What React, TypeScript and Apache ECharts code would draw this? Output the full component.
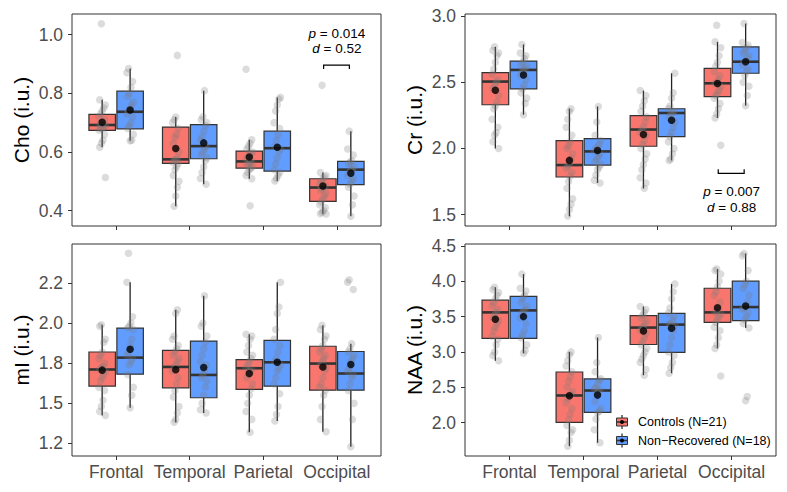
import React, { useEffect, useRef } from 'react';
import * as echarts from 'echarts';

const regions = ['Frontal', 'Temporal', 'Parietal', 'Occipital'];
const groupNames = ['Controls (N=21)', 'Non\u2212Recovered (N=18)'];
const groupColors = ['#F8766D', '#619CFF'];

// ---------- Cho ----------
const choTicks = [0.4, 0.6, 0.8, 1.0];
const choTickLabels = ['0.4', '0.6', '0.8', '1.0'];
// [lower whisker, Q1, median, Q3, upper whisker]
const choCtrlBox = [
  [0.616, 0.674, 0.692, 0.728, 0.778],
  [0.415, 0.561, 0.575, 0.685, 0.719],
  [0.509, 0.545, 0.568, 0.603, 0.642],
  [0.389, 0.432, 0.479, 0.509, 0.53],
];
const choCtrlMean = [0.701, 0.612, 0.583, 0.484];
const choNrBox = [
  [0.638, 0.679, 0.737, 0.807, 0.884],
  [0.49, 0.577, 0.62, 0.693, 0.809],
  [0.501, 0.535, 0.613, 0.671, 0.786],
  [0.381, 0.489, 0.54, 0.568, 0.671],
];
const choNrMean = [0.743, 0.631, 0.616, 0.528];
const choCtrlPts = [
  [1.037, 0.778, 0.76, 0.75, 0.74, 0.73, 0.72, 0.71, 0.7, 0.7, 0.695, 0.69, 0.685, 0.68, 0.68, 0.675, 0.66, 0.64, 0.63, 0.616, 0.513],
  [0.929, 0.719, 0.71, 0.7, 0.68, 0.66, 0.65, 0.63, 0.6, 0.58, 0.575, 0.57, 0.565, 0.56, 0.55, 0.54, 0.52, 0.5, 0.48, 0.45, 0.415],
  [0.882, 0.642, 0.63, 0.62, 0.61, 0.6, 0.595, 0.59, 0.58, 0.575, 0.57, 0.565, 0.56, 0.555, 0.55, 0.545, 0.54, 0.53, 0.52, 0.509, 0.417],
  [0.827, 0.53, 0.52, 0.515, 0.51, 0.5, 0.49, 0.485, 0.48, 0.475, 0.47, 0.46, 0.45, 0.44, 0.43, 0.42, 0.41, 0.4, 0.395, 0.39, 0.389],
];
const choNrPts = [
  [0.884, 0.87, 0.84, 0.82, 0.8, 0.79, 0.77, 0.76, 0.75, 0.74, 0.73, 0.72, 0.7, 0.69, 0.68, 0.66, 0.64, 0.638],
  [0.809, 0.72, 0.71, 0.7, 0.69, 0.67, 0.65, 0.64, 0.62, 0.61, 0.6, 0.59, 0.58, 0.57, 0.55, 0.53, 0.51, 0.49],
  [0.786, 0.78, 0.76, 0.74, 0.7, 0.68, 0.66, 0.64, 0.62, 0.61, 0.6, 0.58, 0.56, 0.54, 0.53, 0.52, 0.51, 0.501],
  [0.671, 0.61, 0.59, 0.57, 0.565, 0.56, 0.55, 0.54, 0.54, 0.53, 0.52, 0.51, 0.5, 0.49, 0.48, 0.45, 0.42, 0.381],
];

// ---------- Cr ----------
const crTicks = [1.5, 2.0, 2.5, 3.0];
const crTickLabels = ['1.5', '2.0', '2.5', '3.0'];
const crCtrlBox = [
  [2.0, 2.33, 2.505, 2.572, 2.767],
  [1.488, 1.785, 1.875, 2.06, 2.3],
  [1.698, 2.017, 2.143, 2.248, 2.437],
  [2.23, 2.392, 2.492, 2.605, 2.805],
];
const crCtrlMean = [2.44, 1.91, 2.105, 2.49];
const crNrBox = [
  [2.255, 2.45, 2.593, 2.66, 2.785],
  [1.74, 1.875, 1.978, 2.075, 2.317],
  [1.91, 2.09, 2.268, 2.3, 2.568],
  [2.323, 2.568, 2.655, 2.767, 2.943],
];
const crNrMean = [2.555, 1.985, 2.213, 2.655];
const crCtrlPts = [
  [2.767, 2.74, 2.72, 2.7, 2.65, 2.6, 2.56, 2.52, 2.5, 2.48, 2.45, 2.4, 2.35, 2.32, 2.3, 2.22, 2.16, 2.12, 2.1, 2.05, 2.0],
  [2.3, 2.28, 2.22, 2.16, 2.1, 2.05, 2.02, 2.0, 1.96, 1.92, 1.88, 1.87, 1.85, 1.82, 1.79, 1.75, 1.7, 1.62, 1.58, 1.54, 1.49],
  [2.437, 2.4, 2.36, 2.32, 2.28, 2.24, 2.2, 2.16, 2.14, 2.12, 2.1, 2.06, 2.03, 2.0, 1.96, 1.92, 1.88, 1.84, 1.78, 1.74, 1.7],
  [2.93, 2.805, 2.76, 2.7, 2.65, 2.62, 2.58, 2.55, 2.52, 2.5, 2.49, 2.47, 2.44, 2.42, 2.4, 2.38, 2.34, 2.3, 2.26, 2.23, 2.025],
];
const crNrPts = [
  [2.785, 2.72, 2.7, 2.68, 2.65, 2.63, 2.62, 2.6, 2.59, 2.58, 2.55, 2.52, 2.48, 2.45, 2.42, 2.38, 2.34, 2.255],
  [2.317, 2.2, 2.1, 2.06, 2.03, 2.01, 2.0, 1.98, 1.96, 1.94, 1.92, 1.9, 1.88, 1.86, 1.84, 1.8, 1.76, 1.74],
  [2.568, 2.42, 2.38, 2.32, 2.3, 2.28, 2.27, 2.26, 2.24, 2.2, 2.16, 2.12, 2.09, 2.05, 2.0, 1.96, 1.92, 1.91],
  [2.943, 2.8, 2.78, 2.76, 2.74, 2.72, 2.7, 2.68, 2.66, 2.65, 2.63, 2.6, 2.58, 2.55, 2.5, 2.47, 2.4, 2.323],
];

// ---------- mI ----------
const miTicks = [1.25, 1.5, 1.75, 2.0, 2.25];
const miTickLabels = ['1.2', '1.5', '1.8', '2.0', '2.2'];
const miCtrlBox = [
  [1.425, 1.607, 1.711, 1.82, 1.99],
  [1.382, 1.597, 1.727, 1.83, 2.083],
  [1.32, 1.587, 1.719, 1.773, 1.93],
  [1.323, 1.582, 1.748, 1.856, 1.986],
];
const miCtrlMean = [1.707, 1.71, 1.686, 1.727];
const miNrBox = [
  [1.472, 1.682, 1.785, 1.969, 2.255],
  [1.44, 1.535, 1.677, 1.888, 2.17],
  [1.39, 1.607, 1.756, 1.893, 2.255],
  [1.23, 1.582, 1.686, 1.823, 1.872],
];
const miNrMean = [1.837, 1.723, 1.756, 1.742];
const miCtrlPts = [
  [1.99, 1.98, 1.9, 1.88, 1.82, 1.8, 1.78, 1.75, 1.73, 1.72, 1.71, 1.7, 1.68, 1.66, 1.64, 1.6, 1.58, 1.52, 1.48, 1.45, 1.425],
  [2.083, 2.06, 1.92, 1.9, 1.86, 1.84, 1.82, 1.8, 1.78, 1.76, 1.74, 1.72, 1.7, 1.66, 1.62, 1.58, 1.54, 1.48, 1.44, 1.4, 1.382],
  [1.93, 1.92, 1.9, 1.86, 1.82, 1.8, 1.78, 1.76, 1.74, 1.72, 1.71, 1.7, 1.68, 1.66, 1.62, 1.59, 1.55, 1.5, 1.45, 1.4, 1.32],
  [1.986, 1.96, 1.92, 1.9, 1.86, 1.84, 1.82, 1.8, 1.78, 1.76, 1.74, 1.72, 1.7, 1.66, 1.62, 1.6, 1.58, 1.55, 1.48, 1.4, 1.323],
];
const miNrPts = [
  [2.435, 2.255, 2.04, 2.0, 1.98, 1.97, 1.96, 1.9, 1.86, 1.82, 1.8, 1.78, 1.76, 1.74, 1.68, 1.6, 1.55, 1.472],
  [2.17, 2.0, 1.98, 1.92, 1.88, 1.84, 1.8, 1.76, 1.74, 1.7, 1.68, 1.66, 1.64, 1.6, 1.55, 1.5, 1.46, 1.44],
  [2.255, 2.1, 2.06, 1.96, 1.9, 1.86, 1.82, 1.78, 1.76, 1.74, 1.72, 1.7, 1.66, 1.62, 1.56, 1.48, 1.43, 1.39],
  [2.27, 2.255, 2.21, 1.872, 1.84, 1.82, 1.8, 1.78, 1.76, 1.72, 1.7, 1.68, 1.66, 1.62, 1.58, 1.5, 1.4, 1.23],
];

// ---------- NAA ----------
const naaTicks = [2.0, 2.5, 3.0, 3.5, 4.0, 4.5];
const naaTickLabels = ['2.0', '2.5', '3.0', '3.5', '4.0', '4.5'];
const naaCtrlBox = [
  [2.875, 3.19, 3.559, 3.732, 3.915],
  [1.667, 2.004, 2.384, 2.716, 3.0],
  [2.67, 3.105, 3.344, 3.513, 3.643],
  [3.049, 3.418, 3.559, 3.9, 4.172],
];
const naaCtrlMean = [3.461, 2.38, 3.297, 3.625];
const naaNrBox = [
  [2.98, 3.19, 3.587, 3.784, 4.1],
  [1.715, 2.145, 2.454, 2.618, 3.204],
  [2.698, 2.993, 3.386, 3.545, 3.962],
  [3.339, 3.442, 3.634, 4.0, 4.392],
];
const naaNrMean = [3.499, 2.389, 3.334, 3.648];
const naaCtrlPts = [
  [3.915, 3.88, 3.84, 3.8, 3.75, 3.7, 3.65, 3.6, 3.56, 3.52, 3.48, 3.44, 3.4, 3.35, 3.3, 3.22, 3.18, 3.1, 3.0, 2.95, 2.875],
  [3.0, 2.96, 2.88, 2.8, 2.72, 2.65, 2.58, 2.5, 2.44, 2.4, 2.38, 2.34, 2.28, 2.2, 2.12, 2.04, 1.96, 1.9, 1.86, 1.75, 1.667],
  [3.643, 3.6, 3.56, 3.52, 3.48, 3.44, 3.4, 3.36, 3.34, 3.3, 3.26, 3.2, 3.15, 3.1, 3.05, 3.0, 2.95, 2.9, 2.85, 2.75, 2.67],
  [4.172, 4.15, 4.1, 4.0, 3.92, 3.85, 3.8, 3.7, 3.62, 3.58, 3.56, 3.54, 3.5, 3.46, 3.42, 3.35, 3.3, 3.2, 3.1, 3.049, 2.66],
];
const naaNrPts = [
  [4.1, 3.9, 3.86, 3.8, 3.75, 3.7, 3.65, 3.6, 3.58, 3.55, 3.48, 3.4, 3.3, 3.24, 3.2, 3.1, 3.02, 2.98],
  [3.204, 2.85, 2.72, 2.62, 2.6, 2.55, 2.5, 2.48, 2.46, 2.44, 2.4, 2.3, 2.2, 2.16, 2.14, 2.05, 1.9, 1.715],
  [3.962, 3.85, 3.75, 3.62, 3.55, 3.5, 3.45, 3.4, 3.39, 3.38, 3.3, 3.2, 3.1, 3.0, 2.95, 2.85, 2.78, 2.698],
  [4.392, 4.36, 4.15, 4.0, 3.95, 3.9, 3.8, 3.7, 3.65, 3.62, 3.6, 3.55, 3.5, 3.45, 3.4, 3.339, 2.37, 2.31],
];

// significance annotations
const choAnnot = { region: 3, p: '0.014', d: '0.52', bracket: 0.896, pY: 1.005, dY: 0.953, dir: -1 };
const crAnnot = { region: 3, p: '0.007', d: '0.88', bracket: 1.8125, pY: 1.672, dY: 1.555, dir: 1 };

const FONT = "'Liberation Sans', Arial, Helvetica, sans-serif";
const DODGE = 0.19;
const HALF = 0.18;

const panels = [
  { title: 'Cho (i.u.)', min: 0.348, max: 1.07, ticks: choTicks, labels: choTickLabels, cBox: choCtrlBox, cMean: choCtrlMean, nBox: choNrBox, nMean: choNrMean, cPts: choCtrlPts, nPts: choNrPts, annot: choAnnot, grid: { left: 72, top: 14, width: 309, height: 212 }, bottom: false },
  { title: 'Cr (i.u.)', min: 1.415, max: 3.015, ticks: crTicks, labels: crTickLabels, cBox: crCtrlBox, cMean: crCtrlMean, nBox: crNrBox, nMean: crNrMean, cPts: crCtrlPts, nPts: crNrPts, annot: crAnnot, grid: { left: 465, top: 14, width: 311, height: 212 }, bottom: false },
  { title: 'mI (i.u.)', min: 1.172, max: 2.493, ticks: miTicks, labels: miTickLabels, cBox: miCtrlBox, cMean: miCtrlMean, nBox: miNrBox, nMean: miNrMean, cPts: miCtrlPts, nPts: miNrPts, annot: null, grid: { left: 72, top: 244, width: 309, height: 212 }, bottom: true },
  { title: 'NAA (i.u.)', min: 1.528, max: 4.526, ticks: naaTicks, labels: naaTickLabels, cBox: naaCtrlBox, cMean: naaCtrlMean, nBox: naaNrBox, nMean: naaNrMean, cPts: naaCtrlPts, nPts: naaNrPts, annot: null, grid: { left: 465, top: 244, width: 311, height: 212 }, bottom: true },
];

const jitter = (i: number) => (((i * 7 + 3) % 9) - 4) * 0.011;

const renderBox = (params: any, api: any) => {
  const x = api.value(0);
  const lo = api.value(1), q1 = api.value(2), med = api.value(3), q3 = api.value(4), hi = api.value(5);
  const g = api.value(6);
  const top = api.coord([x, hi]);
  const bot = api.coord([x, lo]);
  const tl = api.coord([x - HALF, q3]);
  const br = api.coord([x + HALF, q1]);
  const ml = api.coord([x - HALF, med]);
  const mr = api.coord([x + HALF, med]);
  return {
    type: 'group',
    children: [
      { type: 'line', shape: { x1: top[0], y1: top[1], x2: bot[0], y2: bot[1] }, style: { stroke: '#222', lineWidth: 1.3 } },
      { type: 'rect', shape: { x: tl[0], y: tl[1], width: br[0] - tl[0], height: br[1] - tl[1] }, style: { fill: groupColors[g], stroke: '#333', lineWidth: 1.2 } },
      { type: 'line', shape: { x1: ml[0], y1: ml[1], x2: mr[0], y2: mr[1] }, style: { stroke: '#333', lineWidth: 2.6 } },
    ],
  };
};

const makeAnnotRender = (a: any) => (params: any, api: any) => {
  const c = a.region + 1;
  const x1 = c - DODGE + 0.01, x2 = c + DODGE - 0.02;
  const p1 = api.coord([x1, a.bracket]);
  const p2 = api.coord([x2, a.bracket]);
  const pc = api.coord([c, a.pY]);
  const dc = api.coord([c, a.dY]);
  const tick = 4;
  const rich = { i: { fontStyle: 'italic', fontSize: 13.5, fontFamily: FONT, fill: '#000' } };
  return {
    type: 'group',
    children: [
      { type: 'polyline', shape: { points: [[p1[0], p1[1] - a.dir * tick], [p1[0], p1[1]], [p2[0], p2[1]], [p2[0], p2[1] - a.dir * tick]] }, style: { stroke: '#000', lineWidth: 1.2, fill: 'none' } },
      { type: 'text', x: pc[0], y: pc[1], style: { text: '{i|p} = ' + a.p, rich, fontSize: 13.5, fontFamily: FONT, fill: '#000', align: 'center', verticalAlign: 'middle' } },
      { type: 'text', x: dc[0], y: dc[1], style: { text: '{i|d} = ' + a.d, rich, fontSize: 13.5, fontFamily: FONT, fill: '#000', align: 'center', verticalAlign: 'middle' } },
    ],
  };
};

function buildOption() {
  const grid: any[] = [];
  const xAxis: any[] = [];
  const yAxis: any[] = [];
  const series: any[] = [];
  panels.forEach((p, k) => {
    grid.push({ ...p.grid, show: true, borderColor: '#333', borderWidth: 1, backgroundColor: '#fff', containLabel: false });
    xAxis.push({
      type: 'value', gridIndex: k, min: 0.4, max: 4.6,
      splitLine: { show: false }, axisLine: { show: false },
      axisTick: { show: true, customValues: [1, 2, 3, 4], length: 4, lineStyle: { color: '#333', width: 1 } },
      axisLabel: { show: p.bottom, customValues: [1, 2, 3, 4], formatter: (v: number) => regions[Math.round(v) - 1], fontSize: 17.5, fontFamily: FONT, color: '#4D4D4D', margin: 7 },
    });
    yAxis.push({
      type: 'value', gridIndex: k, min: p.min, max: p.max,
      splitLine: { show: false }, axisLine: { show: false },
      axisTick: { show: true, customValues: p.ticks, length: 4, lineStyle: { color: '#333', width: 1 } },
      axisLabel: {
        customValues: p.ticks, fontSize: 17.5, fontFamily: FONT, color: '#4D4D4D', margin: 9,
        formatter: (v: number) => { const i = p.ticks.findIndex((t) => Math.abs(t - v) < 1e-6); return i >= 0 ? p.labels[i] : ''; },
      },
      name: p.title, nameLocation: 'middle', nameGap: 40,
      nameTextStyle: { fontSize: 21, fontFamily: FONT, color: '#000' },
    });
    const boxData: any[] = [];
    const ptsData: any[] = [];
    const meanData: any[] = [];
    [0, 1].forEach((g) => {
      const boxes = g === 0 ? p.cBox : p.nBox;
      const means = g === 0 ? p.cMean : p.nMean;
      const pts = g === 0 ? p.cPts : p.nPts;
      regions.forEach((_, r) => {
        const xc = r + 1 + (g === 0 ? -DODGE : DODGE);
        boxData.push([xc, ...boxes[r], g]);
        meanData.push([xc, means[r]]);
        pts[r].forEach((v, i) => ptsData.push([xc + jitter(i + r * 3 + g * 5), v]));
      });
    });
    series.push({
      type: 'custom', xAxisIndex: k, yAxisIndex: k, renderItem: renderBox, data: boxData,
      encode: { x: 0, y: [1, 2, 3, 4, 5] }, silent: true,
    });
    series.push({
      type: 'scatter', xAxisIndex: k, yAxisIndex: k, data: ptsData, symbolSize: 7.5,
      itemStyle: { color: 'rgba(120,120,120,0.33)' }, silent: true,
    });
    series.push({
      type: 'scatter', xAxisIndex: k, yAxisIndex: k, data: meanData, symbolSize: 7.5,
      itemStyle: { color: '#000' }, silent: true,
    });
    if (p.annot) {
      series.push({
        type: 'custom', xAxisIndex: k, yAxisIndex: k, renderItem: makeAnnotRender(p.annot),
        data: [[p.annot.region + 1, p.annot.bracket]], encode: { x: 0, y: 1 }, silent: true, clip: false,
      });
    }
  });

  // legend drawn inside the NAA panel
  const legendChildren: any[] = [];
  groupNames.forEach((name, g) => {
    const cy = 422 + g * 18.5;
    const cx = 622;
    legendChildren.push(
      { type: 'line', shape: { x1: cx, y1: cy - 7, x2: cx, y2: cy + 7 }, style: { stroke: '#222', lineWidth: 1.2 } },
      { type: 'rect', shape: { x: cx - 5.5, y: cy - 4, width: 11, height: 8 }, style: { fill: groupColors[g], stroke: '#333', lineWidth: 1 } },
      { type: 'line', shape: { x1: cx - 5.5, y1: cy, x2: cx + 5.5, y2: cy }, style: { stroke: '#333', lineWidth: 1.5 } },
      { type: 'circle', shape: { cx, cy, r: 2 }, style: { fill: '#000' } },
      { type: 'text', x: 638, y: cy, style: { text: name, fontSize: 12.5, fontFamily: FONT, fill: '#000', verticalAlign: 'middle', align: 'left' } },
    );
  });

  return {
    animation: false,
    backgroundColor: '#fff',
    grid, xAxis, yAxis, series,
    graphic: [{ type: 'group', children: legendChildren, z: 100 }],
  };
}

export default function App() {
  const ref = useRef<HTMLDivElement>(null);
  useEffect(() => {
    if (!ref.current) return;
    const chart = echarts.init(ref.current, undefined, { renderer: 'svg' });
    chart.setOption(buildOption() as any);
    return () => chart.dispose();
  }, []);
  return <div ref={ref} style={{ position: 'absolute', left: 0, top: 0, width: 787, height: 492 }} />;
}
